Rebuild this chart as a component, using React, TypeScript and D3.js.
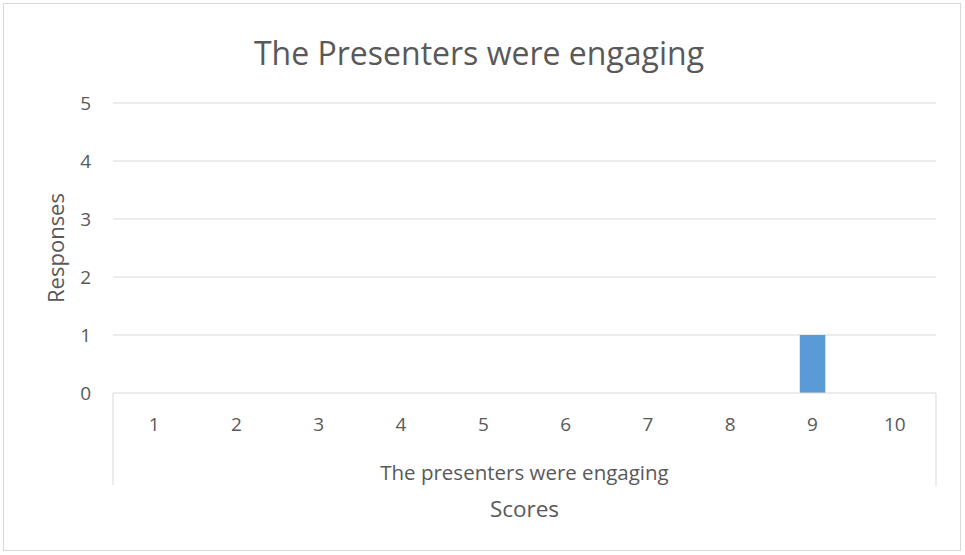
import React from "react";
import * as d3 from "d3";

const categories = ["1", "2", "3", "4", "5", "6", "7", "8", "9", "10"];
const responses = [0, 0, 0, 0, 0, 0, 0, 0, 1, 0];
const yTicks = [0, 1, 2, 3, 4, 5];
const title = "The Presenters were engaging";
const groupLabel = "The presenters were engaging";
const xTitle = "Scores";
const yTitle = "Responses";

const W = 965, H = 555;
const left = 113, right = 936, top = 103, bottom = 393;
const font = "'Open Sans', 'Noto Sans', sans-serif";
const textColor = "#595959";
const gridColor = "#d9d9d9";

export default function App() {
  const x = d3.scaleBand<string>().domain(categories).range([left, right]).paddingInner(0.69).paddingOuter(0.345);
  const band = d3.scaleBand<string>().domain(categories).range([left, right]);
  const y = d3.scaleLinear().domain([0, 5]).range([bottom, top]);
  return (
    <svg width={W} height={H} style={{ position: "absolute", left: 0, top: 0 }}>
      <rect x={0} y={0} width={W} height={H} fill="#fff" />
      <rect x={3.5} y={3.5} width={957} height={547} fill="none" stroke={gridColor} />
      <text x={479} y={65} textAnchor="middle" fontFamily={font} fontSize={32} fill={textColor}>{title}</text>
      {yTicks.filter(t => t > 0).map(t => (
        <line key={t} x1={left} x2={right} y1={y(t)} y2={y(t)} stroke={gridColor} strokeWidth={1} />
      ))}
      {yTicks.map(t => (
        <text key={t} x={91} y={y(t) + 7} textAnchor="end" fontFamily={font} fontSize={19} fill={textColor}>{t}</text>
      ))}
      {categories.map((c, i) => (
        <rect key={c} x={x(c)} width={x.bandwidth()} y={y(responses[i])} height={y(0) - y(responses[i])} fill="#5b9bd5" />
      ))}
      <line x1={left} x2={right} y1={bottom} y2={bottom} stroke={gridColor} />
      <line x1={left} x2={left} y1={bottom} y2={485} stroke={gridColor} />
      <line x1={right} x2={right} y1={bottom} y2={486} stroke={gridColor} />
      {categories.map(c => (
        <text key={c} x={(band(c) as number) + band.bandwidth() / 2} y={431} textAnchor="middle" fontFamily={font} fontSize={19} fill={textColor}>{c}</text>
      ))}
      <text x={(left + right) / 2} y={480} textAnchor="middle" fontFamily={font} fontSize={20.5} fill={textColor}>{groupLabel}</text>
      <text x={(left + right) / 2} y={517} textAnchor="middle" fontFamily={font} fontSize={22.5} fill={textColor}>{xTitle}</text>
      <text transform={`translate(64,${(top + bottom) / 2}) rotate(-90)`} textAnchor="middle" fontFamily={font} fontSize={22} fill={textColor}>{yTitle}</text>
    </svg>
  );
}
